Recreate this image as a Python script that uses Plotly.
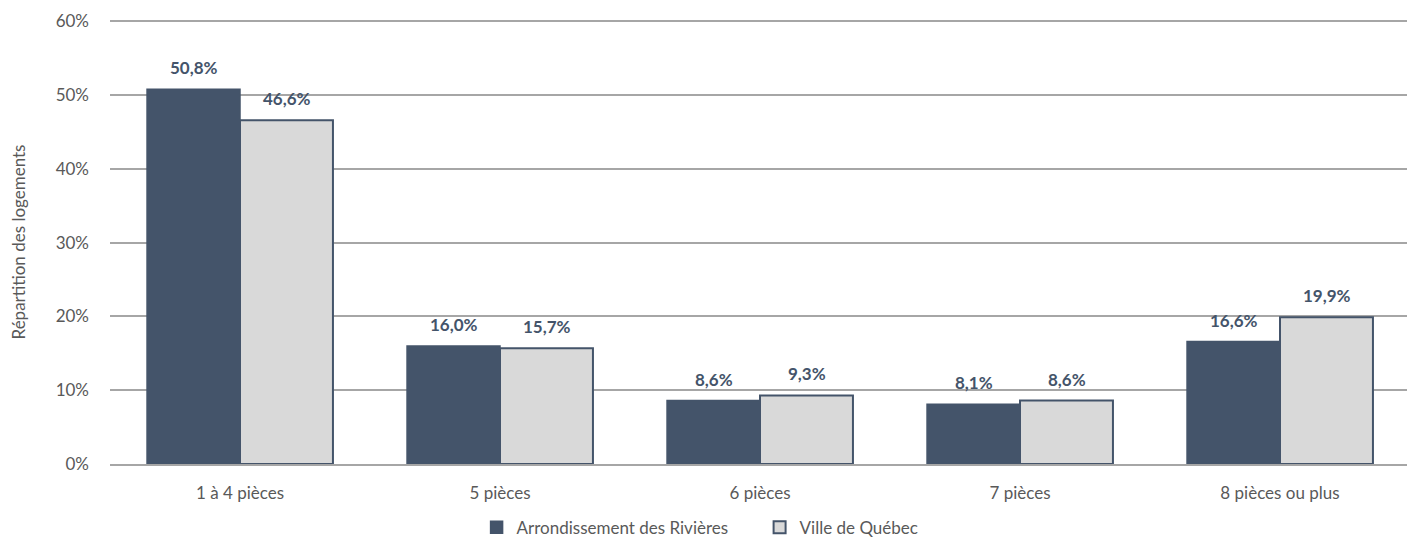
import plotly.graph_objects as go

categories = ["1 à 4 pièces", "5 pièces", "6 pièces", "7 pièces", "8 pièces ou plus"]
arrondissement = [50.8, 16.0, 8.6, 8.1, 16.6]
ville = [46.6, 15.7, 9.3, 8.6, 19.9]
series_names = ["Arrondissement des Rivières", "Ville de Québec"]
tick_vals = [0, 10, 20, 30, 40, 50, 60]
tick_text = ["0%", "10%", "20%", "30%", "40%", "50%", "60%"]

def fmt(v):
    return f"{v:.1f}".replace(".", ",") + "%"

dark = "#44546A"
light = "#D9D9D9"
grey = "#595959"
font_family = "Lato, 'Open Sans', sans-serif"

fig = go.Figure()
fig.add_trace(go.Bar(
    x=categories, y=arrondissement, name=series_names[0],
    marker=dict(color=dark, line=dict(color=dark, width=1.5)),
))
fig.add_trace(go.Bar(
    x=categories, y=ville, name=series_names[1],
    marker=dict(color=light, line=dict(color=dark, width=2)),
))

# data labels
for vals, shift in ((arrondissement, -46.5), (ville, 46.5)):
    for c, v in zip(categories, vals):
        fig.add_annotation(x=c, y=v, xshift=shift, yshift=9, yanchor="bottom",
                           text=fmt(v), showarrow=False,
                           font=dict(color=dark, size=17, family=font_family, weight="bold"))

fig.update_layout(
    width=1407, height=532,
    margin=dict(l=102, r=5, t=12, b=76, autoexpand=False),
    plot_bgcolor="white", paper_bgcolor="white",
    barmode="group", bargap=0.285, bargroupgap=0,
    font=dict(family=font_family, color=grey, size=17),
    showlegend=True,
    legend=dict(orientation="h", x=0.282, xanchor="left", y=-0.103, yanchor="top",
                font=dict(size=17, color=grey), itemwidth=30, traceorder="normal",
                entrywidth=238, tracegroupgap=0),
)
fig.update_xaxes(showgrid=False, showline=True, linecolor="#a6a6a6", linewidth=1.5,
                 ticks="", tickfont=dict(size=17, color=grey), automargin=False,
                 ticklabelstandoff=13)
fig.update_yaxes(range=[0, 60.2], tickvals=tick_vals, ticktext=tick_text,
                 showgrid=True, gridcolor="#a6a6a6", gridwidth=1.5,
                 zeroline=False, showline=False, ticks="", ticklen=0,
                 tickfont=dict(size=17, color=grey), automargin=False,
                 ticklabelstandoff=20,
                 title=dict(text="Répartition des logements", font=dict(size=17, color=grey), standoff=26))

fig.write_html("out.html")
